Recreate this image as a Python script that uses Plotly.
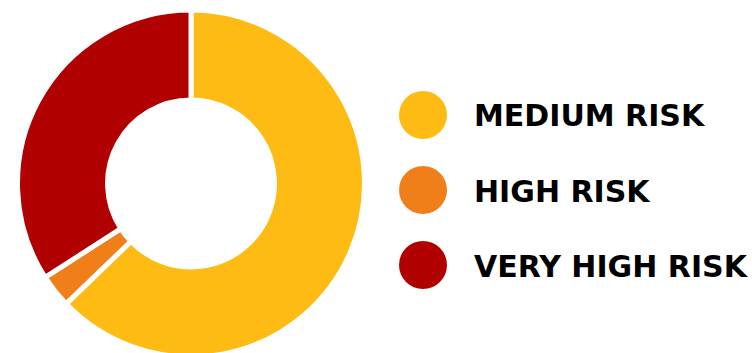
import plotly.graph_objects as go

labels = ["MEDIUM RISK", "HIGH RISK", "VERY HIGH RISK"]
values = [62.8, 3.1, 34.1]
colors = ["#FDBB13", "#F07F1A", "#B00000"]

W, H = 752, 360

fig = go.Figure(go.Pie(
    labels=labels,
    values=values,
    marker=dict(colors=colors, line=dict(color="white", width=5)),
    hole=0.481,
    sort=False,
    direction="clockwise",
    rotation=0,
    textinfo="none",
    hoverinfo="label+percent",
    domain=dict(x=[17.5 / W, 364.5 / W], y=[1 - 357 / H, 1 - 10 / H]),
    showlegend=False,
))

shapes = []
annotations = []
cx, r = 423, 24
for i, (lab, col) in enumerate(zip(labels, colors)):
    cy = 115 + 75 * i
    shapes.append(dict(
        type="circle", xref="paper", yref="paper",
        x0=(cx - r) / W, x1=(cx + r) / W,
        y0=1 - (cy + r) / H, y1=1 - (cy - r) / H,
        fillcolor=col, line=dict(width=0),
    ))
    annotations.append(dict(
        x=472 / W, y=1 - (cy + 1) / H, xref="paper", yref="paper",
        xanchor="left", yanchor="middle", showarrow=False,
        text="<b>" + lab + "</b>",
        font=dict(family="DejaVu Sans", size=30, color="#000000"),
    ))

fig.update_layout(
    width=W, height=H,
    margin=dict(l=0, r=0, t=0, b=0),
    paper_bgcolor="white", plot_bgcolor="white",
    shapes=shapes, annotations=annotations,
)

fig.write_html("out.html", post_script="document.documentElement.style.overflow='hidden';document.body.style.overflow='hidden';document.body.style.margin='0';")
